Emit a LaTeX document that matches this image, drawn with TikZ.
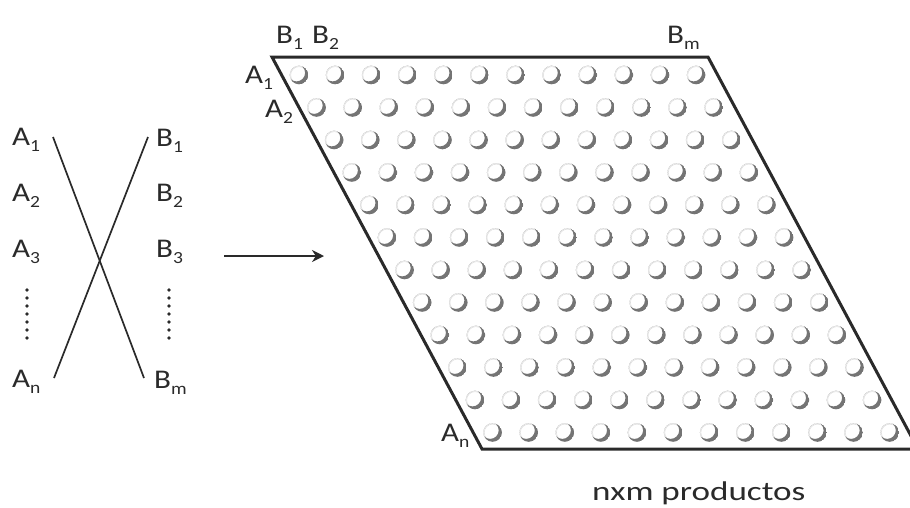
\documentclass[tikz,border=0pt]{standalone}
\usepackage{fontspec}
\usepackage{graphicx}
\setmainfont{Carlito}
\usetikzlibrary{arrows.meta,calc}
\newcommand\lab[1]{\scalebox{1.15}[1]{#1}}
\newcommand\sbs[1]{\raisebox{-0.25em}{\fontsize{17}{17}\selectfont #1}}
\definecolor{ink}{HTML}{2A2A2A}
\definecolor{crest}{HTML}{747474}
\tikzset{
  lbl/.style={inner sep=0pt, anchor=base west, text=ink, font=\fontsize{27}{32}\selectfont},
  crossline/.style={draw=ink, line width=1.7pt},
  frame/.style={draw=ink, line width=3pt, line join=miter},
  dotcol/.style={fill=ink},
  bead/.pic={
    \draw[black!13, line width=0.6pt] (0,0) circle (8.4);
    \begin{scope}
      \clip (0,0) circle (9.3);
      \fill[crest, even odd rule] (0,0) circle (9.3) (-2.5,2.2) circle (8.6);
    \end{scope}
  }
}
\begin{document}
\begin{tikzpicture}[x=1pt,y=1pt]
\useasboundingbox (0,0) rectangle (910,-507);
\begin{scope}
\clip (0,0) rectangle (910,-507);
% left labels
\node[lbl] (a1) at (12,-145) {\lab{A\sbs{1}}};
\node[lbl] (a2) at (12,-201) {\lab{A\sbs{2}}};
\node[lbl] (a3) at (12,-257) {\lab{A\sbs{3}}};
\node[lbl] (an) at (12,-387) {\lab{A\sbs{n}}};
\node[lbl] (b1) at (156,-146) {\lab{B\sbs{1}}};
\node[lbl] (b2) at (156,-201) {\lab{B\sbs{2}}};
\node[lbl] (b3) at (156,-257) {\lab{B\sbs{3}}};
\node[lbl] (bm) at (154,-388) {\lab{B\sbs{m}}};
\foreach \k in {0,...,6}{
  \fill[dotcol] (27,-290-8*\k) circle (1.8);
  \fill[dotcol] (169,-290-8*\k) circle (1.8);
}
% crossing lines
\coordinate (l1s) at (53,-137);
\coordinate (l1e) at (144,-378);
\coordinate (l2s) at (148,-137);
\coordinate (l2e) at (54,-378);
\draw[crossline] (l1s) -- (l1e);
\draw[crossline] (l2s) -- (l2e);
% arrow
\coordinate (ar1) at (224,-256);
\coordinate (ar2) at (324,-256);
\draw[draw=ink, line width=2.8pt, -{Stealth[length=12pt,width=12pt]}] (ar1) -- (ar2);
% beads
\foreach \i in {0,...,11}{
  \foreach \j in {0,...,11}{
    \pic at ({299+17.6*\i+36.1*\j},{-75-32.5*\i}) {bead};
  }
}
% frame
\coordinate (p1) at (272,-57);
\coordinate (p2) at (708,-57);
\coordinate (p3) at (918,-449);
\coordinate (p4) at (482,-449);
\draw[frame] (p1) -- (p2) -- (p3) -- (p4) -- cycle;
% top labels
\node[lbl] (tb1) at (276,-43) {\lab{B\sbs{1}}};
\node[lbl] (tb2) at (312,-43) {\lab{B\sbs{2}}};
\node[lbl] (tbm) at (667,-43) {\lab{B\sbs{m}}};
\node[lbl] (ta1) at (245,-83) {\lab{A\sbs{1}}};
\node[lbl] (ta2) at (265,-117) {\lab{A\sbs{2}}};
\node[lbl] (tan) at (441,-441) {\lab{A\sbs{n}}};
\node[lbl, font=\fontsize{27}{32}\selectfont] (cap) at (592,-500) {\scalebox{1.3}[1]{nxm productos}};
\end{scope}
\end{tikzpicture}
\end{document}
